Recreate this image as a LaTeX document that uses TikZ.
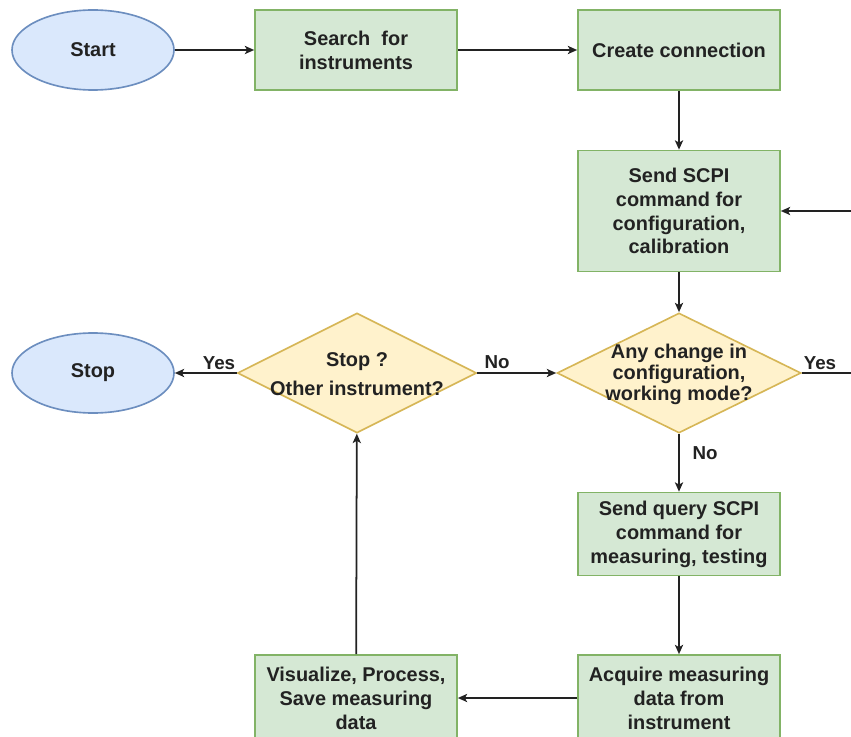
\documentclass[tikz,border=0pt]{standalone}
\usepackage{fontspec}
\setmainfont{Liberation Sans}
\usetikzlibrary{shapes.geometric,arrows.meta}
\definecolor{gfill}{HTML}{D5E8D4}\definecolor{gdraw}{HTML}{82B366}
\definecolor{bfill}{HTML}{DAE8FC}\definecolor{bdraw}{HTML}{6C8EBF}
\definecolor{yfill}{HTML}{FFF2CC}\definecolor{ydraw}{HTML}{D6B656}
\definecolor{ink}{HTML}{222222}
\begin{document}
\begin{tikzpicture}[x=0.03cm,y=-0.03cm,
  every node/.style={font=\bfseries\fontsize{17}{20.4}\selectfont, text=ink, align=center, inner sep=0pt},
  procbox/.style={draw=gdraw, fill=gfill, line width=1.4pt, minimum width=202*0.03cm, minimum height=#1*0.03cm},
  term/.style={ellipse, draw=bdraw, fill=bfill, line width=1.4pt, minimum width=162*0.03cm, minimum height=80*0.03cm},
  decide/.style={diamond, draw=ydraw, fill=yfill, line width=1.4pt, minimum width=#1*0.03cm, minimum height=120*0.03cm},
  conn/.style={draw=ink, line width=1.5pt, -{Stealth[length=8pt,width=7pt,inset=2pt]}},
  lbl/.style={font=\bfseries\fontsize{16}{18}\selectfont}]
\useasboundingbox (0,0) rectangle (851,736);
\node[term] (start) at (93,50) {Start};
\node[procbox=80] (search) at (356,50) {Search\ \ for\\instruments};
\node[procbox=80] (create) at (679,50) {Create connection};
\node[procbox=121] (send) at (679,211) {Send SCPI\\command for\\configuration,\\calibration};
\node[decide=244] (change) at (679,373) {};
\node[font=\bfseries\fontsize{17}{18}\selectfont] (changetxt) at (679,374) {Any change in\\configuration,\\working mode?};
\node[decide=239] (stopq) at (357,373) {};
\node (stopqtxt) at (357,374) {Stop ?\\[4pt]Other instrument?};
\node[term] (stop) at (93,373) {Stop};
\node[procbox=83] (query) at (679,534) {Send query SCPI\\command for\\measuring, testing};
\node[procbox=86] (acq) at (679,698) {Acquire measuring\\data from\\instrument};
\node[procbox=86] (vis) at (356,698) {Visualize, Process,\\Save measuring\\data};
\coordinate (loop) at (853,373);
\draw[conn] (start) -- (search);
\draw[conn] (search) -- (create);
\draw[conn] (create) -- (send);
\draw[conn] (send) -- (change);
\draw[conn] (change) -- (query);
\draw[conn] (query) -- (acq);
\draw[conn] (acq) -- (vis);
\draw[conn] (vis) -- (stopq);
\draw[conn] (stopq) -- (change);
\draw[conn] (stopq) -- (stop);
\draw[conn] (change.east) -- (loop) |- (send.east);
\node[lbl] (yes1) at (820,363) {Yes};
\node[lbl] (no1) at (705,453) {No};
\node[lbl] (no2) at (497,362) {No};
\node[lbl] (yes2) at (219,363) {Yes};
\end{tikzpicture}
\end{document}
